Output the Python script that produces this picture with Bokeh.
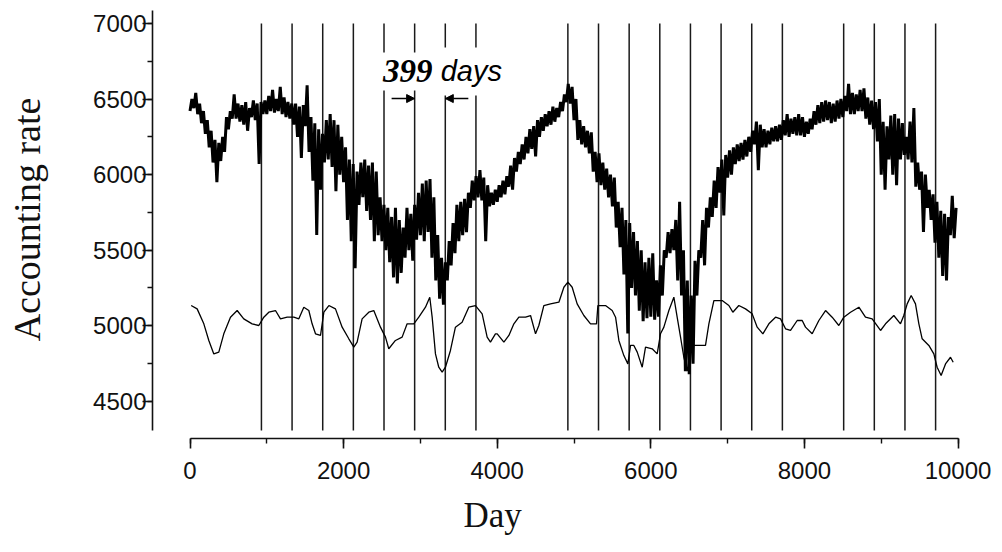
import numpy as np
from bokeh.plotting import figure
from bokeh.models import (Range1d, LinearAxis, SingleIntervalTicker, Label, Arrow,
                          NormalHead, Title)
from bokeh.embed import file_html
from bokeh.resources import INLINE

# ---------------- data ----------------
# noisy daily accounting rate, summarised as upper/lower envelope every 50 days
env_day = list(range(0, 10000, 50))
env_hi = [6500, 6540, 6470, 6420, 6360, 6290, 6230, 6210, 6250, 6380,
          6420, 6530, 6470, 6460, 6480, 6440, 6490, 6470, 6480, 6490,
          6520, 6560, 6500, 6580, 6510, 6480, 6470, 6470, 6450, 6460,
          6590, 6380, 6340, 6300, 6270, 6360, 6400, 6360, 6330, 6250,
          6180, 6100, 6070, 6020, 6080, 6100, 6060, 6080, 6020, 5850,
          5800, 5780, 5720, 5780, 5700, 5650, 5780, 5740, 5800, 5880,
          5940, 5960, 5970, 5850, 5600, 5450, 5420, 5560, 5680, 5800,
          5820, 5840, 5880, 5960, 5990, 6030, 5980, 5930, 5880, 5900,
          5930, 5960, 5990, 6060, 6110, 6150, 6200, 6250, 6300, 6320,
          6360, 6380, 6400, 6420, 6450, 6440, 6480, 6530, 6600, 6580,
          6500, 6360, 6320, 6290, 6280, 6150, 6140, 6080, 6040, 6000,
          5980, 5820, 5780, 5700, 5680, 5620, 5560, 5500, 5420, 5450,
          5480, 5300, 5400, 5500, 5620, 5640, 5700, 5820, 5500, 5300,
          5200, 5430, 5500, 5700, 5780, 5850, 5960, 6050, 6100, 6130,
          6160, 6180, 6200, 6210, 6230, 6250, 6290, 6350, 6330, 6300,
          6290, 6310, 6320, 6330, 6360, 6400, 6370, 6380, 6400, 6380,
          6350, 6370, 6420, 6460, 6480, 6490, 6480, 6470, 6490, 6500,
          6520, 6600, 6540, 6530, 6560, 6570, 6510, 6490, 6480, 6500,
          6350, 6320, 6390, 6400, 6370, 6340, 6250, 6350, 6440, 6080,
          6020, 6000, 5900, 5870, 5820, 5760, 5740, 5720, 5860, 5780]
env_lo = [6420, 6440, 6400, 6340, 6270, 6180, 6080, 5950, 6090, 6150,
          6300, 6370, 6370, 6350, 6330, 6290, 6380, 6360, 6070, 6400,
          6400, 6420, 6410, 6420, 6400, 6380, 6370, 6330, 6250, 6110,
          6320, 6150, 5960, 5600, 5900, 6080, 6100, 6050, 5890, 6000,
          5950, 5700, 5560, 5380, 5800, 5850, 5760, 5700, 5560, 5600,
          5560, 5500, 5420, 5320, 5280, 5350, 5450, 5500, 5430, 5570,
          5600, 5560, 5620, 5450, 5300, 5180, 5140, 5300, 5400, 5480,
          5560, 5600, 5620, 5780, 5830, 5850, 5830, 5560, 5790, 5800,
          5820, 5850, 5870, 5920, 5900, 6020, 6070, 6100, 6140, 6170,
          6120, 6250, 6290, 6320, 6330, 6350, 6380, 6420, 6480, 6470,
          6360, 6230, 6200, 6180, 6140, 6020, 5950, 5930, 5900, 5850,
          5790, 5650, 5520, 5340, 4950, 5250, 5200, 5100, 5030, 5050,
          5060, 5040, 5060, 5200, 5450, 5480, 5500, 5300, 5200, 4700,
          4680, 4750, 5200, 5450, 5400, 5650, 5720, 5780, 5880, 5730,
          5980, 6000, 6070, 6090, 6100, 6120, 6150, 6200, 6030, 6180,
          6180, 6200, 6220, 6220, 6230, 6260, 6250, 6270, 6260, 6260,
          6250, 6270, 6300, 6330, 6340, 6350, 6360, 6340, 6350, 6370,
          6380, 6420, 6400, 6400, 6420, 6420, 6370, 6330, 6300, 6220,
          6000, 5900, 6100, 6000, 5930, 6100, 6130, 6100, 6080, 5920,
          5900, 5620, 5780, 5700, 5550, 5450, 5330, 5300, 5600, 5580]

# smoothed series
smooth_day = [15, 93, 180, 245, 310, 375, 440, 527, 614, 700, 809, 896, 961, 1026,
              1113, 1178, 1265, 1352, 1417, 1482, 1547, 1590, 1634, 1699, 1743, 1808,
              1894, 1981, 2068, 2133, 2176, 2241, 2328, 2393, 2480, 2545, 2588, 2675,
              2762, 2827, 2914, 2979, 3066, 3122, 3153, 3196, 3239, 3283, 3326, 3391,
              3456, 3543, 3630, 3717, 3804, 3869, 3912, 3977, 4000, 4087, 4152, 4217,
              4282, 4369, 4434, 4499, 4542, 4607, 4694, 4803, 4868, 4920, 4976, 5041,
              5128, 5215, 5293, 5311, 5410, 5497, 5541, 5584, 5649, 5701, 5736, 5779,
              5823, 5888, 5931, 6018, 6083, 6126, 6170, 6235, 6300, 6343, 6387, 6430,
              6474, 6517, 6560, 6600, 6650, 6712, 6756, 6821, 6929, 7016, 7068, 7146,
              7233, 7320, 7385, 7459, 7537, 7624, 7689, 7754, 7819, 7906, 7971, 8014,
              8101, 8188, 8275, 8361, 8448, 8513, 8600, 8709, 8795, 8882, 8991, 9056,
              9164, 9251, 9294, 9338, 9390, 9446, 9490, 9533, 9620, 9685, 9728, 9780,
              9837, 9902, 9937]
smooth_rate = [5134, 5112, 5013, 4903, 4814, 4826, 4947, 5057, 5101, 5046, 5013, 5002, 5057, 5090,
               5101, 5046, 5057, 5057, 5046, 5123, 5101, 5013, 4947, 4936, 5090, 5134,
               5112, 4991, 4914, 4859, 4892, 5046, 5090, 5101, 4991, 4925, 4848, 4903,
               4925, 5013, 5013, 5057, 5123, 5189, 5057, 4814, 4726, 4693, 4726, 4837,
               4991, 5024, 5123, 5134, 5079, 4925, 4892, 4947, 4947, 4892, 4936, 5013,
               5057, 5057, 5068, 4947, 5002, 5134, 5145, 5156, 5255, 5289, 5255, 5145,
               5068, 5013, 5013, 5134, 5134, 5101, 5057, 4903, 4803, 4748, 4870, 4870,
               4826, 4726, 4859, 4848, 4814, 4947, 4991, 5101, 5189, 5057, 4925, 4792,
               4700, 4860, 4870, 4870, 4870, 4870, 5013, 5167, 5167, 5134, 5090, 5134,
               5112, 5079, 4991, 4947, 5013, 5057, 5046, 4980, 4969, 5035, 5035, 4991,
               4947, 5035, 5101, 5057, 5002, 5057, 5090, 5123, 5057, 5046, 4969, 5013,
               5068, 5013, 5068, 5145, 5200, 5145, 5013, 4914, 4870, 4814, 4726, 4671,
               4748, 4792, 4759]

# marked days (vertical lines)
mark_days = [930, 1329, 1728, 2127, 2526, 2925, 3324, 3723,
             4920, 5319, 5718, 6117, 6516, 6915, 7314, 7713,
             8511, 8910, 9309, 9708]

x_ticks_interval = 2000
y_ticks_interval = 500

# ---------------- figure ----------------
p = figure(width=1002, height=552, output_backend="svg", toolbar_location=None,
           x_range=Range1d(-488.3, 10553), y_range=Range1d(4254.6, 7151.5),
           x_axis_type=None, y_axis_type=None,
           min_border_left=152, min_border_right=2, min_border_top=0,
           min_border_bottom=114)
p.outline_line_color = None
p.xgrid.visible = False
p.ygrid.visible = False
p.background_fill_color = "white"
p.border_fill_color = "white"

# axes
xaxis = LinearAxis(ticker=SingleIntervalTicker(interval=x_ticks_interval, num_minor_ticks=2),
                   bounds=(0, 10000))
yaxis = LinearAxis(ticker=SingleIntervalTicker(interval=y_ticks_interval, num_minor_ticks=2),
                   bounds=(4307, 7085), axis_label="Accounting rate")
for ax in (xaxis, yaxis):
    ax.axis_line_width = 1.6
    ax.axis_line_color = "#111111"
    ax.major_tick_line_width = 1.6
    ax.major_tick_line_color = "#111111"
    ax.minor_tick_line_width = 1.4
    ax.minor_tick_line_color = "#111111"
    ax.major_tick_out = 10
    ax.major_tick_in = 0
    ax.minor_tick_out = 5
    ax.minor_tick_in = 0
    ax.major_label_text_font = "Liberation Sans"
    ax.major_label_text_font_size = "24px"
    ax.major_label_text_color = "#111111"
    ax.axis_label_text_font = "Liberation Serif"
    ax.axis_label_text_font_style = "normal"
    ax.axis_label_text_font_size = "38px"
    ax.axis_label_text_color = "#111111"
xaxis.major_label_standoff = 13
yaxis.major_label_standoff = -4
yaxis.axis_label_standoff = 42
p.add_layout(xaxis, "below")
p.add_layout(yaxis, "left")

# x-axis title, offset to the left like in the original
p.add_layout(Title(text="Day", align="left", offset=311, standoff=24,
                   text_font="Liberation Serif", text_font_style="normal",
                   text_font_size="35px", text_color="#111111"), "below")

# vertical marker lines
n = len(mark_days)
p.segment(x0=mark_days, x1=mark_days, y0=[4307] * n, y1=[7000] * n,
          line_color="#1a1a1a", line_width=1.5)

# noisy series drawn as zigzag between its envelope
zx, zy = [], []
for d, hi, lo in zip(env_day, env_hi, env_lo):
    zx += [d, d + 25]
    zy += [lo, hi]
p.line(zx, zy, line_color="black", line_width=3.0)

# smoothed series
p.line(smooth_day, smooth_rate, line_color="black", line_width=1.3)

# annotation "399 days"
lab1 = Label(x=2410, y=6682, text="399", text_font="Liberation Serif",
             text_font_style="bold italic", text_font_size="33px",
             text_baseline="middle", text_align="left", text_color="black",
             background_fill_color="white", padding=8)
lab2 = Label(x=3160, y=6682, text="days", text_font="Liberation Sans",
             text_font_style="italic", text_font_size="29px",
             text_baseline="middle", text_align="left", text_color="black",
             background_fill_color="white", padding=8)
p.add_layout(lab1)
p.add_layout(lab2)

p.add_layout(Arrow(end=NormalHead(size=8, fill_color="black", line_color="black"),
                   x_start=mark_days[5] - 300, y_start=6503,
                   x_end=mark_days[5], y_end=6503, line_width=1.5))
p.add_layout(Arrow(end=NormalHead(size=8, fill_color="black", line_color="black"),
                   x_start=mark_days[6] + 300, y_start=6503,
                   x_end=mark_days[6], y_end=6503, line_width=1.5))

open("out.html", "w").write(file_html(p, INLINE))
